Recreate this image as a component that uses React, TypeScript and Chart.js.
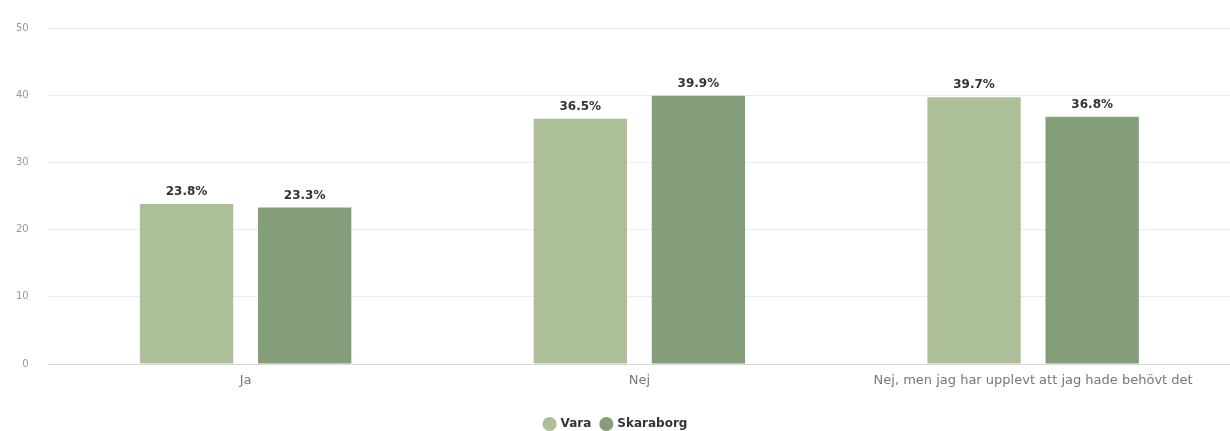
import React, { useEffect, useRef } from "react";
import { Chart, registerables } from "chart.js";

Chart.register(...registerables);

const categories = ["Ja", "Nej", "Nej, men jag har upplevt att jag hade behövt det"];
const varaValues = [23.8, 36.5, 39.7];
const skaraborgValues = [23.3, 39.9, 36.8];
const seriesNames = ["Vara", "Skaraborg"];
const yTicks = [0, 10, 20, 30, 40, 50];

const FONT = "'DejaVu Sans'";

const labelPlugin = {
  id: "barLabels",
  afterDatasetsDraw(chart: any) {
    const ctx = chart.ctx;
    ctx.save();
    ctx.font = "bold 12px " + FONT;
    ctx.fillStyle = "#333333";
    ctx.textAlign = "center";
    ctx.textBaseline = "bottom";
    chart.data.datasets.forEach((ds: any, i: number) => {
      const meta = chart.getDatasetMeta(i);
      meta.data.forEach((el: any, j: number) => {
        ctx.fillText(ds.data[j].toFixed(1) + "%", el.x, el.y - 6);
      });
    });
    ctx.restore();
  },
};

export default function App() {
  const ref = useRef<HTMLCanvasElement>(null);
  useEffect(() => {
    document.body.style.margin = "0";
    const chart = new Chart(ref.current!, {
      type: "bar",
      data: {
        labels: categories,
        datasets: [
          { label: seriesNames[0], data: varaValues, backgroundColor: "#adbf99" },
          { label: seriesNames[1], data: skaraborgValues, backgroundColor: "#839e78" },
        ],
      },
      options: {
        animation: false,
        responsive: false,
        maintainAspectRatio: false,
        layout: { padding: { top: 28, left: -4, right: -6, bottom: -9 } },
        datasets: { bar: { categoryPercentage: 0.6, barPercentage: 0.79 } },
        plugins: {
          legend: {
            position: "bottom",
            labels: {
              usePointStyle: true,
              pointStyle: "circle",
              boxWidth: 10,
              boxHeight: 10,
              padding: 10,
              color: "#333333",
              font: { family: FONT, size: 12, weight: "bold" },
            },
          },
          tooltip: { enabled: false },
        },
        scales: {
          x: {
            afterFit: (axis: any) => {
              axis.height = 44;
            },
            grid: { display: false },
            border: { color: "#d9d9d9" },
            ticks: { color: "#777777", font: { family: FONT, size: 13 }, padding: 1 },
          },
          y: {
            min: 0,
            max: 50,
            afterBuildTicks: (axis: any) => {
              axis.ticks = yTicks.map((v) => ({ value: v }));
            },
            grid: { color: "#ececec", drawTicks: false },
            border: { display: false },
            ticks: { color: "#999999", font: { family: FONT, size: 10 }, padding: 20 },
          },
        },
      },
      plugins: [labelPlugin],
    });
    return () => chart.destroy();
  }, []);
  return (
    <div style={{ width: 1230, height: 431 }}>
      <canvas ref={ref} width={1230} height={431} />
    </div>
  );
}
